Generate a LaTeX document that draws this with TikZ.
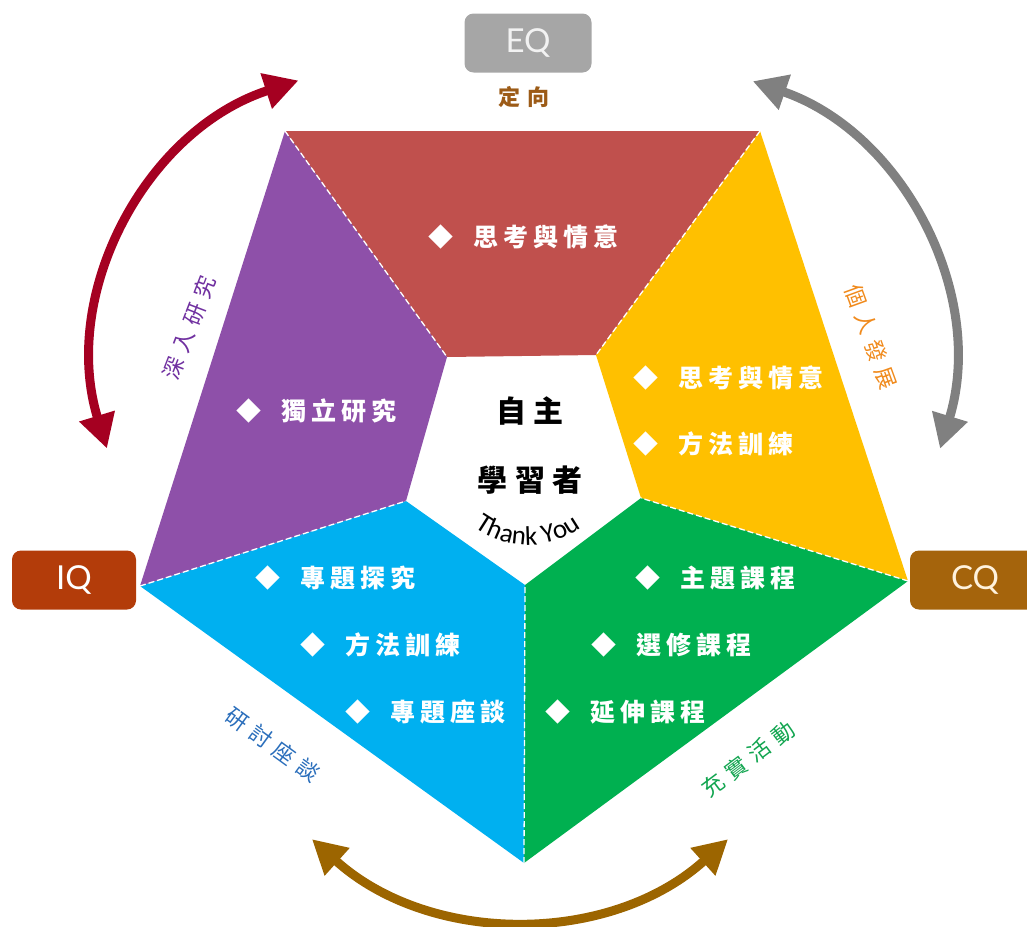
\documentclass[tikz,border=0pt]{standalone}
\usepackage{fontspec}
\usetikzlibrary{arrows.meta,decorations.text}
\newfontfamily\cjkitem{Noto Sans CJK TC}[LetterSpace=20]
\newfontfamily\cjkcenter{Noto Sans CJK TC}[LetterSpace=25]
\newfontfamily\cjkside{Noto Sans CJK TC}[LetterSpace=32]
\newfontfamily\qfont{Lato}
\newfontfamily\thankfont{Carlito}
\definecolor{segred}{HTML}{C0504D}
\definecolor{segpurple}{HTML}{8E50A9}
\definecolor{segyellow}{HTML}{FFC000}
\definecolor{seggreen}{HTML}{00B050}
\definecolor{segblue}{HTML}{00B0F0}
\definecolor{arrred}{HTML}{A50021}
\definecolor{arrgray}{HTML}{808080}
\definecolor{arrbrown}{HTML}{9C6500}
\definecolor{eqgray}{HTML}{A6A6A6}
\definecolor{eqtext}{HTML}{F2F2F2}
\definecolor{iqred}{HTML}{B33C0A}
\definecolor{cqbrown}{HTML}{A5640C}
\definecolor{cqtext}{HTML}{FFF2DD}
\definecolor{labbrown}{HTML}{9C5B17}
\definecolor{labpurple}{HTML}{7030A0}
\definecolor{laborange}{HTML}{F08A1C}
\definecolor{labblue}{HTML}{2A6EBB}
\definecolor{labgreen}{HTML}{12A550}
\tikzset{
  sepline/.style={white, line width=1.3pt, dash pattern=on 6pt off 3pt},
  itemtext/.style={anchor=west, inner sep=0pt, text=white, font=\cjkitem\bfseries\fontsize{25}{25}\selectfont},
  centertext/.style={inner sep=0pt, text=black, font=\cjkcenter\bfseries\fontsize{30}{30}\selectfont},
  sidetext/.style={inner sep=0pt, font=\cjkside\fontsize{22}{22}\selectfont},
  qbox/.style={rounded corners=9pt, minimum height=59pt, inner sep=0pt, font=\qfont\fontsize{33}{33}\selectfont},
  bigarrow/.style={line width=9pt, arrows={Triangle[length=34pt,width=35pt]-Triangle[length=34pt,width=35pt]}},
}
\begin{document}
\begin{tikzpicture}[x=1pt,y=-1pt]
\useasboundingbox (0,0) rectangle (1027,926);
% pentagon vertices
\coordinate (oTL) at (285,131);
\coordinate (oTR) at (760,131);
\coordinate (oR) at (908,581);
\coordinate (oB) at (524,863);
\coordinate (oL) at (140,586);
\coordinate (iTL) at (447,357);
\coordinate (iTR) at (596,355);
\coordinate (iR) at (641,498);
\coordinate (iB) at (525,585);
\coordinate (iL) at (406,501);
% segments
\fill[segred] (oTL) -- (oTR) -- (iTR) -- (iTL) -- cycle;
\fill[segyellow] (oTR) -- (oR) -- (iR) -- (iTR) -- cycle;
\fill[seggreen] (oR) -- (oB) -- (iB) -- (iR) -- cycle;
\fill[segblue] (oB) -- (oL) -- (iL) -- (iB) -- cycle;
\fill[segpurple] (oL) -- (oTL) -- (iTL) -- (iL) -- cycle;
\draw[sepline] (oTL) -- (iTL);
\draw[sepline] (oTR) -- (iTR);
\draw[sepline] (oR) -- (iR);
\draw[sepline] (oB) -- (iB);
\draw[sepline] (oL) -- (iL);
% arrows
\coordinate (rc) at (390,362);
\coordinate (gc) at (656,362);
\coordinate (bc) at (520,608);
\draw[bigarrow, arrred] ([shift={(252:296)}]rc) arc[start angle=252, end angle=163, radius=296];
\draw[bigarrow, arrgray] ([shift={(-71:297)}]gc) arc[start angle=-71, end angle=17, radius=297];
\draw[bigarrow, arrbrown] ([shift={(132:311)}]bc) arc[start angle=132, end angle=48, radius=311];
% boxes
\node[qbox, fill=eqgray, text=eqtext, minimum width=127pt] (eq) at (528,43) {EQ};
\node[qbox, fill=iqred, text=white, minimum width=124pt] (iq) at (74,580) {IQ};
\node[qbox, fill=cqbrown, text=cqtext, minimum width=130pt] (cq) at (975,580) {CQ};
\node[inner sep=0pt, text=labbrown, font=\cjkside\bfseries\fontsize{22}{22}\selectfont] (eqlab) at (524,97) {定向};
% items
\node[itemtext] (r1) at (428,237) {◆\hspace{20pt}思考與情意};
\node[itemtext] (p1) at (236,411) {◆\hspace{20pt}獨立研究};
\node[itemtext] (y1) at (633,378) {◆\hspace{20pt}思考與情意};
\node[itemtext] (y2) at (633,444) {◆\hspace{20pt}方法訓練};
\node[itemtext] (b1) at (255,578) {◆\hspace{20pt}專題探究};
\node[itemtext] (b2) at (300,645) {◆\hspace{20pt}方法訓練};
\node[itemtext] (b3) at (345,712) {◆\hspace{20pt}專題座談};
\node[itemtext] (g1) at (635,578) {◆\hspace{20pt}主題課程};
\node[itemtext] (g2) at (591,645) {◆\hspace{20pt}選修課程};
\node[itemtext] (g3) at (545,712) {◆\hspace{20pt}延伸課程};
% center
\node[centertext] (c1) at (530,411) {自主};
\node[centertext] (c2) at (530,480) {學習者};
\coordinate (ty1) at (464,518);
\coordinate (ty2) at (592,518);
\path[decorate, decoration={text along path, text={|\thankfont\fontsize{27}{27}\selectfont|Thank You}, text align=center}]
  (ty1) .. controls (498,554) and (558,554) .. (ty2);
% side labels
\node[sidetext, text=labpurple, rotate=69] (s1) at (189,328) {深入研究};
\node[sidetext, text=laborange, rotate=-70] (s2) at (871,337) {個人發展};
\node[sidetext, text=labblue, rotate=-36] (s3) at (273,745) {研討座談};
\node[sidetext, text=labgreen, rotate=37] (s4) at (748,759) {充實活動};
\end{tikzpicture}
\end{document}
